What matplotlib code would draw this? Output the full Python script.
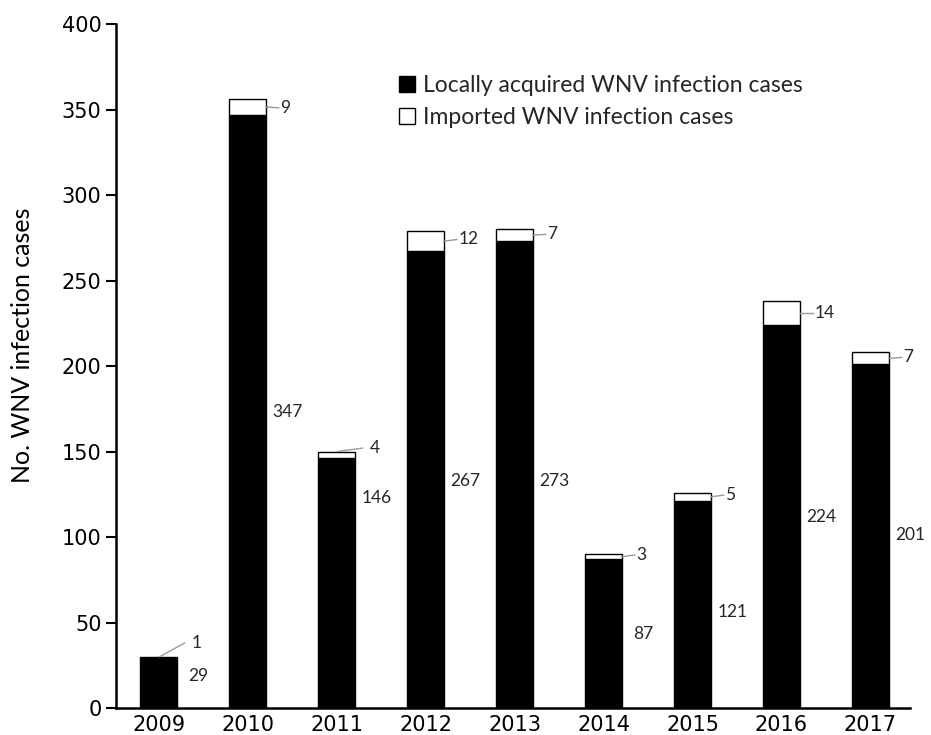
import matplotlib
matplotlib.use("Agg")
import matplotlib.pyplot as plt
from matplotlib.patches import Patch

years = ["2009", "2010", "2011", "2012", "2013", "2014", "2015", "2016", "2017"]
local_cases = [29, 347, 146, 267, 273, 87, 121, 224, 201]
imported_cases = [1, 9, 4, 12, 7, 3, 5, 14, 7]

# label placement (y positions in data units)
local_label_y = [19, 173, 123, 133, 133, 43, 56, 112, 101]
imported_label_y = [38, 351, 152, 274, 277, 89.5, 124.5, 231, 205]

fig = plt.figure(figsize=(9.31, 7.35), dpi=100)
ax = fig.add_axes([0.1246, 0.0367, 0.8524, 0.9306])

x = list(range(len(years)))
w = 0.41
ax.bar(x, local_cases, width=w, color="black", edgecolor="black", linewidth=1)
ax.bar(x, imported_cases, width=w, bottom=local_cases, color="white",
       edgecolor="black", linewidth=1)

lab_font = dict(family=["Lato", "DejaVu Sans"], fontsize=12.5, color="#262626")
for i in x:
    ax.text(i + 0.45, local_label_y[i], str(local_cases[i]), ha="center",
            va="center", **lab_font)
    top = local_cases[i] + imported_cases[i]
    mid = local_cases[i] + imported_cases[i] / 2
    ly = imported_label_y[i]
    if i in (0, 2):
        ax.plot([i + 0.01, i + 0.29], [top, ly], color="#999999", lw=1)
    else:
        ax.plot([i + w / 2, i + 0.35], [mid, ly], color="#999999", lw=1)
    ax.text(i + 0.37, ly, str(imported_cases[i]), ha="left", va="center",
            **lab_font)

ax.set_xlim(-0.48, 8.44)
ax.set_ylim(0, 400)
ax.set_yticks(range(0, 401, 50))
ax.set_xticks(x)
ax.set_xticklabels(years)
ax.tick_params(axis="y", direction="out", length=7, width=1.5, labelsize=15)
ax.tick_params(axis="x", length=0, labelsize=15, pad=5)
for s in ["top", "right"]:
    ax.spines[s].set_visible(False)
for s in ["left", "bottom"]:
    ax.spines[s].set_linewidth(1.8)

ax.set_ylabel("No. WNV infection cases", fontsize=18,
              family=["Lato", "DejaVu Sans"])
ax.yaxis.set_label_coords(-0.103, 0.53)

handles = [Patch(facecolor="black", edgecolor="black", label="Locally acquired WNV infection cases"),
           Patch(facecolor="white", edgecolor="black", label="Imported WNV infection cases")]
leg = ax.legend(handles=handles, loc="upper left", bbox_to_anchor=(0.33, 0.955),
                frameon=False, handlelength=0.7, handleheight=0.7,
                handletextpad=0.35, labelspacing=0.45,
                prop=dict(family=["Lato", "DejaVu Sans"], size=16.5))
for t in leg.get_texts():
    t.set_color("#262626")

fig.savefig("out.png", dpi=100)
